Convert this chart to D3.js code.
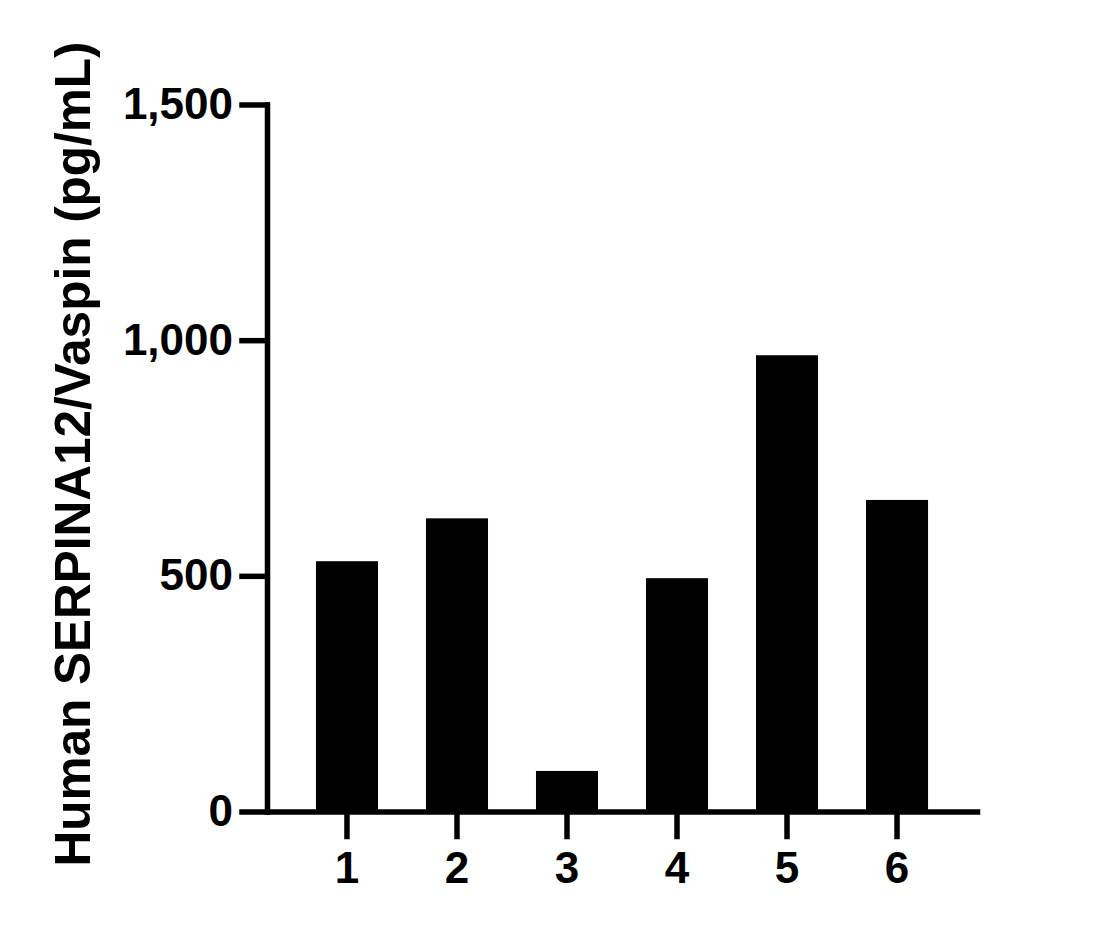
<!DOCTYPE html>
<html lang="en">
<head>
  <meta charset="utf-8">
  <script src="https://d3js.org/d3.v7.min.js"></script>
  <style>
    body { margin: 0; background: #fff; }
    svg { display: block; }
    .axis path, .axis line { stroke: #000; stroke-width: 5.5; stroke-linecap: square; }
    .axis text { fill: #000; font-family: 'Liberation Sans', Arial, sans-serif; font-weight: bold; font-size: 44px; }
    .axis-label { font-family: 'Liberation Sans', Arial, sans-serif; font-weight: bold; font-size: 49.5px; fill: #000; }
  </style>
</head>
<body>
  <svg id="chart" width="1109" height="929"></svg>
  <script>
    // values
    const samples = ["1", "2", "3", "4", "5", "6"];
    const values = [531, 622, 86, 495, 968, 661];
    const yTicks = [0, 500, 1000, 1500];
    const yTitle = "Human SERPINA12/Vaspin (pg/mL)";

    const margin = {top: 104.5, left: 267, right: 132, bottom: 117.5},
          width = 1109 - margin.left - margin.right,
          height = 929 - margin.top - margin.bottom;

    const svg = d3.select("#chart")
                  .append("g")
                  .attr("transform", `translate(${margin.left},${margin.top})`);

    const x = d3.scaleBand().domain(samples).range([0, width])
                .paddingInner(0.436).paddingOuter(0.445);
    const y = d3.scaleLinear().domain([0, 1500]).range([height, 0]);

    svg.selectAll(".bar")
       .data(values)
       .enter().append("rect")
       .attr("class", "bar")
       .attr("x", (d, i) => x(samples[i]))
       .attr("y", d => y(d))
       .attr("width", x.bandwidth())
       .attr("height", d => height - y(d))
       .attr("fill", "#000");

    svg.append("g")
       .attr("class", "axis")
       .attr("transform", `translate(0,${height})`)
       .call(d3.axisBottom(x).tickSize(25).tickSizeOuter(0).tickPadding(15));

    svg.append("g")
       .attr("class", "axis")
       .call(d3.axisLeft(y).tickValues(yTicks).tickSize(25).tickSizeOuter(0).tickPadding(9)
               .tickFormat(d3.format(",")));

    d3.select("#chart").append("text")
      .attr("class", "axis-label")
      .attr("transform", "translate(90,454) rotate(-90)")
      .attr("text-anchor", "middle")
      .text(yTitle);
  </script>
</body>
</html>
